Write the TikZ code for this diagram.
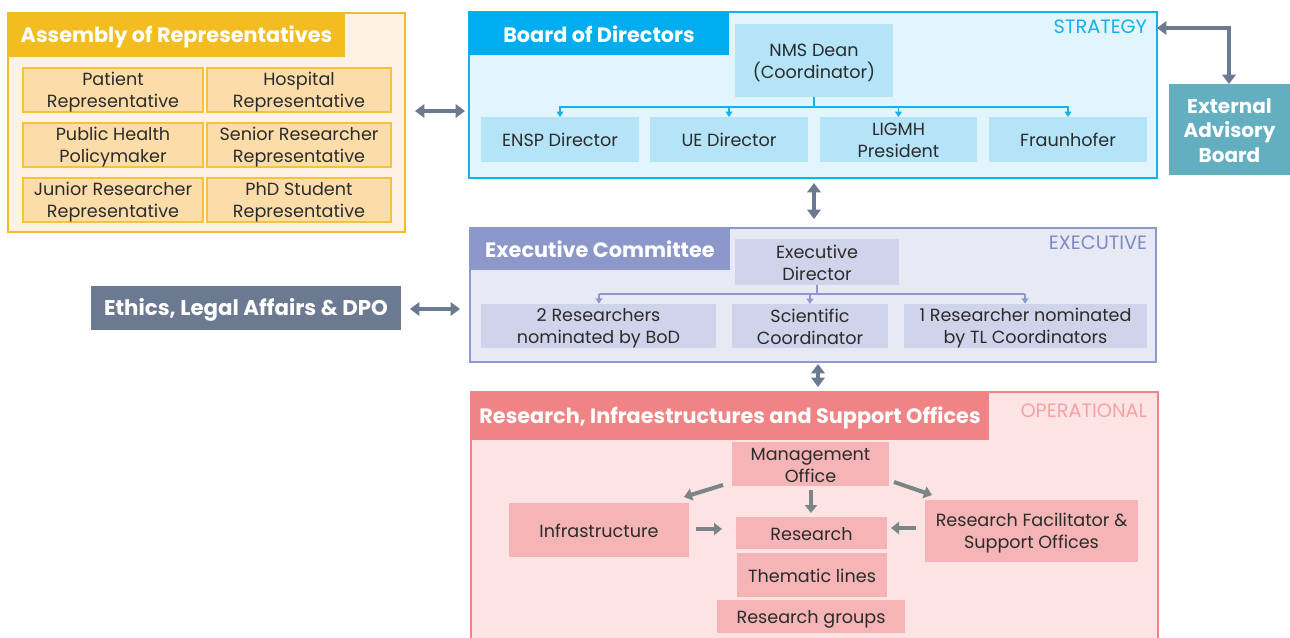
\documentclass[tikz,border=0pt]{standalone}
\usepackage{fontspec}
\setmainfont{Poppins}
\usetikzlibrary{arrows.meta}
\definecolor{txt}{HTML}{2B2B2B}
\definecolor{asmline}{HTML}{F3BD21}
\definecolor{asmfill}{HTML}{FEF2E4}
\definecolor{asmcell}{HTML}{FCDCA9}
\definecolor{asmcellline}{HTML}{F5C33B}
\definecolor{bodline}{HTML}{14B1EC}
\definecolor{bodfill}{HTML}{E2F4FC}
\definecolor{bodtab}{HTML}{00AEEF}
\definecolor{bodcell}{HTML}{B5E3F8}
\definecolor{eabfill}{HTML}{63AEBF}
\definecolor{exline}{HTML}{8D98CB}
\definecolor{exfill}{HTML}{E7E9F5}
\definecolor{extab}{HTML}{8C97CA}
\definecolor{excell}{HTML}{D0D4EA}
\definecolor{extext}{HTML}{7D89C4}
\definecolor{slate}{HTML}{6C7A91}
\definecolor{opline}{HTML}{F08385}
\definecolor{opfill}{HTML}{FCE4E5}
\definecolor{optab}{HTML}{F08384}
\definecolor{opcell}{HTML}{F5B4B6}
\definecolor{optext}{HTML}{F4A2A3}
\definecolor{greyarrow}{HTML}{7B8585}
\newcommand\pstrut{\rule[-0.2em]{0pt}{1.22em}}
\newcommand\pbox[7]{\node[#1, minimum width={(#5-#3)*0.75pt}, minimum height={(#6-#4)*0.75pt}] (#2) at ({(#3+#5)/2},{(#4+#6)/2}) {\pstrut#7\pstrut};}
\tikzset{
  base/.style={inner sep=0pt, outer sep=0pt, align=center, text=txt, font=\fontsize{13.2pt}{16.5pt}\selectfont, execute at begin node={\lineskiplimit=-30pt\lineskip=0pt\relax}},
  titletab/.style={base, text=white, font=\fontsize{15.6pt}{19pt}\selectfont\bfseries},
  tag/.style={inner sep=0pt, outer sep=0pt, anchor=east, font=\fontsize{14.5pt}{16pt}\selectfont},
  asmcellbox/.style={base, draw=asmcellline, fill=asmcell, line width=1.5pt},
  bodcellbox/.style={base, fill=bodcell},
  excellbox/.style={base, fill=excell},
  opcellbox/.style={base, fill=opcell},
  slatearrow/.style={draw=slate, line width=2.6pt, {Triangle[width=10pt,length=7pt]}-{Triangle[width=10pt,length=7pt]}},
  greyarr/.style={draw=greyarrow, line width=3pt, -{Triangle[width=9pt,length=6pt]}},
  bodconn/.style={draw=bodline, line width=1.3pt, -{Triangle[width=5pt,length=4pt]}},
  exconn/.style={draw=exline, line width=1.1pt, -{Triangle[width=5pt,length=4pt]}},
}
\begin{document}
\begin{tikzpicture}[x=0.75pt,y=-0.75pt]
\useasboundingbox (0,0) rectangle (1290,637);
\clip (0,0) rectangle (1290,637);
\fill[white] (0,0) rectangle (1290,637);

% Assembly of Representatives
\pbox{base, draw=asmline, fill=asmfill, line width=1.5pt}{asm}{8}{13}{405}{232}{}
\pbox{titletab, fill=asmline}{asmtitle}{8}{13}{345}{57}{Assembly of Representatives}
\pbox{asmcellbox}{patient}{23}{68}{203}{112}{Patient\\Representative}
\pbox{asmcellbox}{hospital}{207}{68}{391}{112}{Hospital\\Representative}
\pbox{asmcellbox}{publich}{23}{123}{203}{167}{Public Health\\Policymaker}
\pbox{asmcellbox}{senior}{207}{123}{391}{167}{Senior Researcher\\Representative}
\pbox{asmcellbox}{junior}{23}{178}{203}{222}{Junior Researcher\\Representative}
\pbox{asmcellbox}{phd}{207}{178}{391}{222}{PhD Student\\Representative}

% Board of Directors
\pbox{base, draw=bodline, fill=bodfill, line width=1.5pt}{bod}{469}{12}{1157}{178}{}
\pbox{titletab, fill=bodtab}{bodtitle}{469}{12}{729}{55}{Board of Directors}
\node[tag, text=bodline] (strategy) at (1147,27) {STRATEGY};
\pbox{bodcellbox}{nms}{735}{24}{893}{97}{NMS Dean\\(Coordinator)}
\pbox{bodcellbox}{ensp}{481}{117}{639}{162}{ENSP Director}
\pbox{bodcellbox}{ue}{650}{117}{808}{162}{UE Director}
\pbox{bodcellbox}{ligmh}{820}{117}{977}{162}{LIGMH\\President}
\pbox{bodcellbox}{fraun}{989}{117}{1147}{162}{Fraunhofer}
\coordinate (bodbus) at (814,107);
\draw[draw=bodline, line width=1.3pt] (nms.south -| bodbus) -- (bodbus);
\draw[bodconn] (bodbus) -| (ensp.north);
\draw[bodconn] (bodbus) -| (ue.north);
\draw[bodconn] (bodbus) -| (ligmh.north);
\draw[bodconn] (bodbus) -| (fraun.north);

% External Advisory Board
\pbox{base, fill=eabfill, text=white, font=\fontsize{15pt}{18.5pt}\selectfont\bfseries}{eab}{1169}{84}{1290}{175}{External\\Advisory\\Board}
\coordinate (eabA) at (1157,28);
\coordinate (eabB) at (1229,84);
\draw[slatearrow] (eabA) -| (eabB);

% Executive Committee
\pbox{base, draw=exline, fill=exfill, line width=1.5pt}{exc}{470}{228}{1156}{362}{}
\pbox{titletab, fill=extab}{extitle}{470}{228}{730}{270}{Executive Committee}
\node[tag, text=extext] (executive) at (1147,243) {EXECUTIVE};
\pbox{excellbox}{exdir}{735}{239}{899}{285}{Executive\\Director}
\pbox{excellbox}{twores}{481}{304}{716}{348}{2 Researchers\\nominated by BoD}
\pbox{excellbox}{scicoord}{732}{304}{888}{348}{Scientific\\Coordinator}
\pbox{excellbox}{oneres}{904}{304}{1147}{348}{1 Researcher nominated\\by TL Coordinators}
\coordinate (exbus) at (817,294);
\draw[draw=exline, line width=1.1pt] (exdir.south -| exbus) -- (exbus);
\coordinate (exA) at (599,294);
\coordinate (exB) at (810,294);
\coordinate (exC) at (1025,294);
\draw[draw=exline, line width=1.1pt] (exA) -- (exC);
\draw[exconn] (exA) -- (exA |- twores.north);
\draw[exconn] (exB) -- (exB |- scicoord.north);
\draw[exconn] (exC) -- (exC |- oneres.north);

% Ethics
\pbox{base, fill=slate, text=white, font=\fontsize{16pt}{19pt}\selectfont\bfseries}{ethics}{91}{286}{401}{330}{Ethics, Legal Affairs \& DPO}

% Slate arrows
\coordinate (a1) at (415,111); \coordinate (a2) at (465,111);
\draw[slatearrow] (a1) -- (a2);
\coordinate (b1) at (410,309); \coordinate (b2) at (460,309);
\draw[slatearrow] (b1) -- (b2);
\coordinate (c1) at (814,183); \coordinate (c2) at (814,219);
\draw[slatearrow] (c1) -- (c2);
\coordinate (d1) at (818,364); \coordinate (d2) at (818,387);
\draw[slatearrow] (d1) -- (d2);

% Operational
\pbox{base, draw=opline, fill=opfill, line width=1.5pt}{op}{471}{392}{1158}{660}{}
\pbox{titletab, fill=optab}{optitle}{471}{392}{989}{440}{Research, Infraestructures and Support Offices}
\node[tag, text=optext] (operational) at (1147,411) {OPERATIONAL};
\pbox{opcellbox}{mgmt}{732}{443}{889}{485}{Management\\Office}
\pbox{opcellbox}{infra}{509}{503}{689}{557}{Infrastructure}
\pbox{opcellbox}{research}{736}{517}{887}{549}{Research}
\pbox{opcellbox}{thematic}{737}{553}{887}{597}{Thematic lines}
\pbox{opcellbox}{groups}{717}{600}{905}{633}{Research groups}
\pbox{opcellbox}{facil}{925}{500}{1138}{562}{Research Facilitator \&\\Support Offices}

\coordinate (g1s) at (723,485); \coordinate (g1e) at (684,497);
\draw[greyarr] (g1s) -- (g1e);
\coordinate (g2s) at (811,490); \coordinate (g2e) at (811,513);
\draw[greyarr] (g2s) -- (g2e);
\coordinate (g3s) at (696,529); \coordinate (g3e) at (722,529);
\draw[greyarr] (g3s) -- (g3e);
\coordinate (g4s) at (894,482); \coordinate (g4e) at (932,495);
\draw[greyarr] (g4s) -- (g4e);
\coordinate (g5s) at (916,528); \coordinate (g5e) at (891,528);
\draw[greyarr] (g5s) -- (g5e);
\end{tikzpicture}
\end{document}
